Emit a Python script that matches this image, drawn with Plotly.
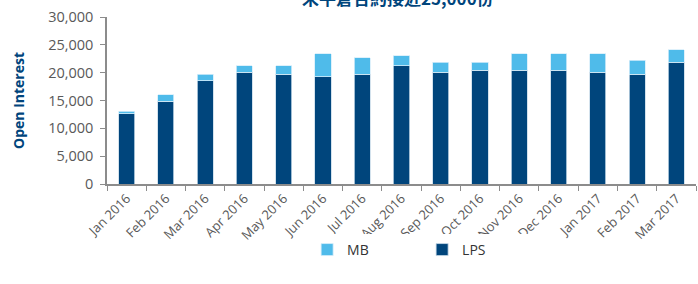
import plotly.graph_objects as go

months = ["Jan 2016", "Feb 2016", "Mar 2016", "Apr 2016", "May 2016", "Jun 2016",
          "Jul 2016", "Aug 2016", "Sep 2016", "Oct 2016", "Nov 2016", "Dec 2016",
          "Jan 2017", "Feb 2017", "Mar 2017"]
lps = [12600, 14850, 18550, 20050, 19700, 19300, 19700, 21200, 20050, 20400, 20400, 20400, 20050, 19700, 21900]
mb = [450, 1150, 1200, 1150, 1500, 4100, 3000, 1850, 1850, 1500, 3000, 3000, 3350, 2550, 2200]
yticks = [0, 5000, 10000, 15000, 20000, 25000, 30000]
ytick_text = ["0", "5,000", "10,000", "15,000", "20,000", "25,000", "30,000"]
title_text = "未平倉合約接近25,000份"

DARK = "#00457C"
LIGHT = "#4FBBEA"
GRAY = "#595959"
font_family = "Open Sans, Liberation Sans, sans-serif"

fig = go.Figure()
fig.add_trace(go.Bar(x=months, y=lps, name="LPS", marker=dict(color=DARK, line=dict(color="#c8dbe9", width=0.8))))
fig.add_trace(go.Bar(x=months, y=mb, name="MB", marker=dict(color=LIGHT, line=dict(color="#d6eefa", width=0.8))))

fig.add_annotation(text="<b>" + title_text + "</b>", xref="paper", yref="paper",
                   x=0.494, y=1.115, xanchor="center", yanchor="middle", showarrow=False,
                   font=dict(family="Noto Sans CJK TC", size=17, color=DARK))

fig.update_layout(
    barmode="stack",
    bargap=0.59,
    width=698, height=284,
    margin=dict(l=107, r=2, t=17, b=100, autoexpand=False),
    plot_bgcolor="white", paper_bgcolor="white",
    font=dict(family=font_family, color=GRAY, size=13),
    showlegend=True,
    legend=dict(orientation="h", traceorder="reversed", x=0.535, xanchor="center",
                y=-0.395, yanchor="middle", entrywidth=70, font=dict(size=14, color="#333333")),
)
fig.update_xaxes(type="category", showline=True, linecolor="#8c8c8c", linewidth=1.5,
                 ticks="outside", tickson="boundaries", ticklen=5, tickcolor="#8c8c8c",
                 tickangle=-45, tickfont=dict(size=13, color=GRAY), showgrid=False,
                 automargin=False)
fig.update_yaxes(range=[0, 30000], tickvals=yticks, ticktext=ytick_text,
                 showline=True, linecolor="#8c8c8c", linewidth=1.5,
                 ticks="outside", ticklen=5, tickcolor="#8c8c8c", showgrid=False, zeroline=False,
                 tickfont=dict(size=14.5, color=GRAY), automargin=False, ticklabelstandoff=4,
                 title=dict(text="<b>Open Interest</b>", font=dict(size=14, color=DARK), standoff=20))

fig.write_html("out.html", config={"displayModeBar": False},
               post_script="document.body.style.margin='0';document.body.style.overflow='hidden';")
